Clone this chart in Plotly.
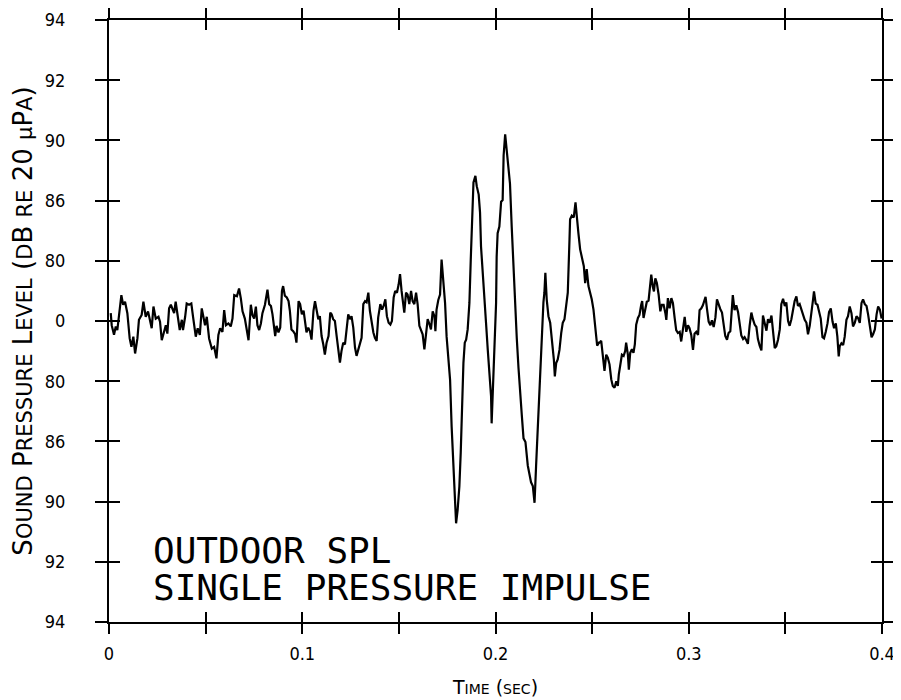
import plotly.graph_objects as go

# ---- data: time (s) and level (in tick-step units, 0 = centre line) ----
time_a = [0.0009,0.0014,0.0026,0.0035,0.0043,0.0055,0.0064,0.0073,0.0083,0.0095,
          0.0107,0.0116,0.0126,0.0135,0.0147,0.0155,0.0169,0.0178,0.0190,0.0202,
          0.0211,0.0221,0.0230,0.0242,0.0256,0.0264,0.0273,0.0285,0.0294,0.0302,
          0.0311,0.0320,0.0328,0.0337,0.0345,0.0354,0.0366,0.0377,0.0383,0.0394,
          0.0402,0.0414,0.0426,0.0435,0.0449,0.0459,0.0470,0.0480,0.0488,0.0497,
          0.0506,0.0518,0.0532,0.0544,0.0556,0.0566,0.0575,0.0587,0.0596,0.0605,
          0.0618,0.0630,0.0639,0.0648,0.0662,0.0673,0.0682,0.0691,0.0703,0.0713,
          0.0722,0.0734,0.0742,0.0751,0.0760,0.0768,0.0777,0.0786,0.0794,0.0807,
          0.0820]
level_a = [0.13,-0.07,-0.23,-0.09,-0.15,0.16,0.43,0.27,0.32,0.13,
           -0.29,-0.43,-0.26,-0.54,-0.29,0.02,0.10,0.32,0.07,0.16,
           0.02,-0.12,0.24,0.04,0.07,-0.01,-0.32,-0.15,-0.07,-0.21,
           0.21,0.27,0.21,0.13,0.32,0.10,-0.15,0.02,-0.15,0.07,
           0.29,0.27,0.29,0.07,-0.26,-0.12,-0.23,0.21,0.04,-0.07,
           0.07,-0.29,-0.46,-0.43,-0.62,-0.23,-0.12,-0.18,0.18,-0.07,
           -0.04,-0.09,0.04,0.43,0.41,0.54,0.38,0.16,0.04,-0.15,
           -0.32,0.27,0.10,0.04,0.24,-0.07,-0.15,-0.04,0.13,0.27,
           0.52]

time_b = [0.0829,0.0838,0.0846,0.0855,0.0860,0.0867,0.0877,0.0886,0.0895,0.0901,
          0.0910,0.0920,0.0929,0.0936,0.0944,0.0953,0.0963,0.0970,0.0975,0.0981,
          0.0989,0.0998,0.1007,0.1014,0.1022,0.1031,0.1040,0.1048,0.1058,0.1066,
          0.1074,0.1083,0.1091,0.1100,0.1109,0.1117,0.1126,0.1136,0.1145,0.1152,
          0.1160,0.1169,0.1178,0.1186,0.1195,0.1203,0.1212,0.1221,0.1229,0.1238,
          0.1247,0.1255,0.1264,0.1273,0.1281,0.1290,0.1299,0.1307,0.1316,0.1325,
          0.1333,0.1342,0.1350,0.1359,0.1368,0.1376,0.1385,0.1393,0.1404,0.1413,
          0.1421,0.1430,0.1438,0.1447,0.1456,0.1464,0.1473,0.1481,0.1490,0.1499,
          0.1506,0.1514,0.1523,0.1528,0.1537,0.1545,0.1554,0.1563,0.1571,0.1580,
          0.1589,0.1597]
level_b = [0.28,0.25,0.11,-0.08,-0.25,-0.08,-0.19,-0.11,0.50,0.58,
           0.42,0.39,0.33,0.17,-0.14,-0.17,-0.22,-0.36,-0.08,0.33,
           0.28,0.11,0.17,0.00,-0.19,-0.11,-0.17,-0.31,0.17,0.33,
           0.19,0.03,0.08,-0.25,-0.39,-0.56,-0.36,-0.25,0.14,0.11,
           0.03,0.00,-0.25,-0.44,-0.69,-0.50,-0.36,-0.39,-0.19,0.11,
           0.03,0.08,-0.11,-0.44,-0.58,-0.47,-0.39,-0.28,0.28,0.33,
           0.31,0.47,0.17,-0.06,-0.19,-0.28,-0.33,0.06,0.28,0.19,
           0.25,0.36,0.08,-0.03,-0.06,0.00,0.39,0.50,0.47,0.61,
           0.78,0.50,0.31,0.14,0.47,0.44,0.28,0.50,0.33,0.28,
           0.47,0.28]

time_c = [0.1606,0.1615,0.1623,0.1632,0.1641,0.1649,0.1658,0.1666,0.1675,0.1684,
          0.1689,0.1695,0.1704,0.1713,0.1721,0.1730,0.1739,0.1747,0.1756,0.1765,
          0.1773,0.1782,0.1789,0.1796,0.1804,0.1813,0.1820,0.1827,0.1834,0.1841,
          0.1848,0.1856,0.1865,0.1872,0.1879,0.1886,0.1896,0.1903,0.1913,0.1920,
          0.1925,0.1934,0.1943,0.1951,0.1960,0.1968,0.1977,0.1980,0.1986,0.1994,
          0.2003,0.2006,0.2011,0.2020,0.2029,0.2037,0.2042,0.2050,0.2058,0.2067,
          0.2075,0.2084,0.2093,0.2101,0.2110,0.2119,0.2127,0.2136,0.2145,0.2155,
          0.2167,0.2176,0.2184,0.2193,0.2202,0.2210,0.2219,0.2227,0.2233,0.2241,
          0.2248,0.2253,0.2258,0.2265,0.2274,0.2283,0.2293,0.2302,0.2307,0.2314,
          0.2322,0.2331,0.2340,0.2348,0.2357,0.2366,0.2374,0.2383,0.2386,0.2395,
          0.2405,0.2414,0.2421,0.2429,0.2438,0.2446,0.2457,0.2464,0.2472,0.2481,
          0.2490,0.2498,0.2507,0.2516,0.2526,0.2535]
level_c = [-0.08,-0.14,-0.22,-0.47,-0.25,0.03,-0.05,-0.14,0.16,0.08,
           -0.17,0.19,0.35,0.44,1.02,0.66,0.30,-0.26,-0.59,-0.98,
           -1.75,-2.36,-3.08,-3.36,-3.14,-2.75,-2.19,-1.36,-0.70,-0.36,
           -0.31,-0.14,0.30,1.02,1.74,2.30,2.41,2.24,2.10,1.80,
           1.24,0.74,0.30,-0.03,-0.48,-0.92,-1.25,-1.70,-1.25,-0.59,
           0.30,1.07,1.46,1.57,1.98,2.01,2.75,3.10,2.85,2.56,
           2.28,1.56,0.83,0.17,-0.28,-0.78,-1.22,-1.56,-1.95,-2.01,
           -2.40,-2.57,-2.68,-2.74,-3.02,-2.41,-1.74,-1.30,-0.63,-0.19,
           0.31,0.47,0.80,0.36,0.08,-0.03,-0.31,-0.64,-0.92,-0.70,
           -0.64,-0.48,-0.20,-0.03,0.03,0.30,0.47,1.36,1.69,1.75,
           1.72,1.97,1.69,1.46,1.19,1.07,0.91,0.63,0.86,0.58,
           0.47,0.36,0.19,-0.08,-0.41,-0.36]

time_d = [0.2538,0.2547,0.2556,0.2564,0.2573,0.2581,0.2590,0.2599,0.2607,0.2616,
          0.2625,0.2633,0.2638,0.2645,0.2654,0.2663,0.2671,0.2676,0.2685,0.2690,
          0.2697,0.2706,0.2714,0.2721,0.2728,0.2737,0.2745,0.2754,0.2759,0.2766,
          0.2775,0.2783,0.2792,0.2801,0.2806,0.2814,0.2820,0.2827,0.2835,0.2844,
          0.2853,0.2861,0.2870,0.2879,0.2884,0.2892,0.2901,0.2910,0.2918,0.2927,
          0.2935,0.2944,0.2953,0.2961,0.2970,0.2979,0.2987,0.2996,0.3004,0.3013,
          0.3022,0.3030,0.3039,0.3048,0.3056,0.3065,0.3073,0.3087,0.3094,0.3103,
          0.3112,0.3120,0.3129,0.3138,0.3146,0.3155,0.3163,0.3172,0.3181,0.3189,
          0.3198,0.3206,0.3215,0.3224,0.3228,0.3237,0.3246,0.3255,0.3263,0.3272,
          0.3281,0.3289,0.3298,0.3306,0.3315,0.3324,0.3332,0.3341,0.3350,0.3358,
          0.3367,0.3376,0.3384,0.3393,0.3402,0.3410,0.3419,0.3428,0.3436,0.3445,
          0.3453,0.3462,0.3471,0.3479,0.3488,0.3497,0.3505,0.3514,0.3522,0.3531,
          0.3540,0.3548,0.3557,0.3565,0.3574,0.3583,0.3591,0.3600,0.3609,0.3617,
          0.3626,0.3635,0.3643,0.3648,0.3657,0.3666,0.3674,0.3683,0.3692,0.3700,
          0.3709,0.3718,0.3726,0.3735,0.3744,0.3752,0.3761,0.3769,0.3776,0.3781,
          0.3790,0.3799,0.3807,0.3816,0.3824,0.3833,0.3842,0.3850,0.3859,0.3868,
          0.3876,0.3885,0.3894,0.3902,0.3911,0.3920,0.3928,0.3937,0.3946,0.3954,
          0.3963,0.3972,0.3980,0.3989,0.3998]
level_d = [-0.36,-0.33,-0.56,-0.83,-0.56,-0.61,-0.72,-0.97,-1.08,-1.11,
           -1.00,-1.08,-0.89,-0.72,-0.56,-0.58,-0.50,-0.36,-0.56,-0.81,
           -0.53,-0.47,-0.53,-0.39,-0.06,0.05,0.10,0.27,0.33,0.05,
           0.19,0.32,0.34,0.56,0.77,0.57,0.49,0.71,0.63,0.44,
           0.16,0.27,0.27,0.13,0.02,0.38,0.21,0.38,0.30,0.05,
           -0.15,-0.20,-0.18,-0.34,-0.09,0.07,-0.18,-0.07,-0.12,-0.23,
           -0.48,-0.21,-0.18,-0.23,0.18,0.21,0.26,0.40,0.21,-0.01,
           -0.07,0.01,-0.10,0.06,0.36,0.25,0.20,0.14,-0.03,-0.25,
           -0.31,-0.20,-0.17,0.33,0.43,0.18,0.26,0.15,-0.04,-0.24,
           -0.30,-0.27,-0.32,-0.38,-0.08,0.14,0.03,-0.06,-0.10,-0.30,
           -0.41,-0.49,0.09,-0.02,-0.16,0.03,-0.03,0.09,-0.22,-0.45,
           -0.42,-0.31,-0.14,0.28,0.37,0.25,0.31,0.00,-0.08,0.03,
           0.19,0.33,0.41,0.25,0.28,0.19,0.10,0.02,-0.03,-0.22,
           -0.08,0.11,0.35,0.49,0.29,0.27,0.13,0.04,-0.27,-0.29,
           -0.18,-0.04,0.15,0.21,-0.01,-0.12,-0.04,-0.26,-0.59,-0.42,
           -0.37,-0.40,-0.26,0.02,0.08,0.24,0.13,-0.09,-0.03,0.08,
           0.05,-0.03,0.30,0.36,0.28,0.25,0.11,-0.05,-0.27,-0.22,
           -0.14,0.11,0.24,0.19,0.04]

x_tick_vals = [0, 0.05, 0.1, 0.15, 0.2, 0.25, 0.3, 0.35, 0.4]
x_tick_text = ["0", "", "0.1", "", "0.2", "", "0.3", "", "0.4"]
y_tick_vals = [-5, -4, -3, -2, -1, 0, 1, 2, 3, 4, 5]
y_tick_text = ["94", "92", "90", "86", "80", "0", "80", "86", "90", "92", "94"]

time_s = time_a + time_b + time_c + time_d
level = level_a + level_b + level_c + level_d
n = min(len(time_s), len(level))
time_s, level = time_s[:n], level[:n]

FONT = "DejaVu Sans Condensed, Liberation Sans Narrow, DejaVu Sans, sans-serif"
TITLE_FONT = "DejaVu Sans, sans-serif"


def small_caps(text, small):
    parts = []
    for ch in text:
        if ch.isalpha() and ch.islower():
            shown = ch if ch == "μ" else ch.upper()
            parts.append(f"<span style='font-size:{small}px'>{shown}</span>")
        else:
            parts.append(ch)
    return "".join(parts)


fig = go.Figure()
fig.add_trace(go.Scatter(x=time_s, y=level, mode="lines",
                         line=dict(color="black", width=2.2), showlegend=False,
                         hoverinfo="skip"))
# empty helper trace so the inside-tick axes exist
fig.add_trace(go.Scatter(x=[None], y=[None], xaxis="x2", yaxis="y2",
                         showlegend=False, hoverinfo="skip"))

# the page body has an 8px margin, so the figure is 8px smaller than the window
fig.update_layout(
    width=893, height=692,
    margin=dict(l=101, r=19, t=12, b=78),
    paper_bgcolor="white", plot_bgcolor="white",
    font=dict(family=FONT, color="black", size=18),
    xaxis=dict(range=[0, 0.4], tickvals=x_tick_vals, ticktext=x_tick_text,
               ticks="outside", ticklen=10, tickwidth=2, tickcolor="black",
               showline=True, linecolor="black", linewidth=2, mirror="ticks",
               showgrid=False, zeroline=False, automargin=False,
               tickfont=dict(size=18, family=FONT), ticklabelstandoff=4,
               title=dict(text=small_caps("Time (sec)", 14), standoff=18,
                          font=dict(size=19, family=TITLE_FONT))),
    yaxis=dict(range=[-5, 5], tickvals=y_tick_vals, ticktext=y_tick_text,
               ticks="outside", ticklen=12, tickwidth=2, tickcolor="black",
               showline=True, linecolor="black", linewidth=2, mirror="ticks",
               showgrid=False, zeroline=False, automargin=False,
               tickfont=dict(size=18, family=FONT), ticklabelstandoff=26,
               title=dict(text=small_caps("Sound Pressure Level (dB re 20 μPa)", 21),
                          standoff=16, font=dict(size=26, family=TITLE_FONT))),
    xaxis2=dict(range=[0, 0.4], tickvals=x_tick_vals, ticks="inside", ticklen=10,
                tickwidth=2, tickcolor="black", showticklabels=False,
                overlaying="x", anchor="y2", mirror="ticks", showline=False,
                showgrid=False, zeroline=False, automargin=False),
    yaxis2=dict(range=[-5, 5], tickvals=y_tick_vals, ticks="inside", ticklen=11,
                tickwidth=2, tickcolor="black", showticklabels=False,
                overlaying="y", anchor="x2", mirror="ticks", showline=False,
                showgrid=False, zeroline=False, automargin=False),
)

ANN_FONT = dict(family="DejaVu Sans Mono, Liberation Mono, monospace", size=36, color="black")
fig.add_annotation(text="OUTDOOR SPL", xref="paper", yref="paper", x=0.054, y=0.118,
                   xanchor="left", yanchor="middle", showarrow=False, font=ANN_FONT)
fig.add_annotation(text="SINGLE PRESSURE IMPULSE", xref="paper", yref="paper", x=0.054,
                   y=0.057, xanchor="left", yanchor="middle", showarrow=False, font=ANN_FONT)

fig.write_html("out.html")
